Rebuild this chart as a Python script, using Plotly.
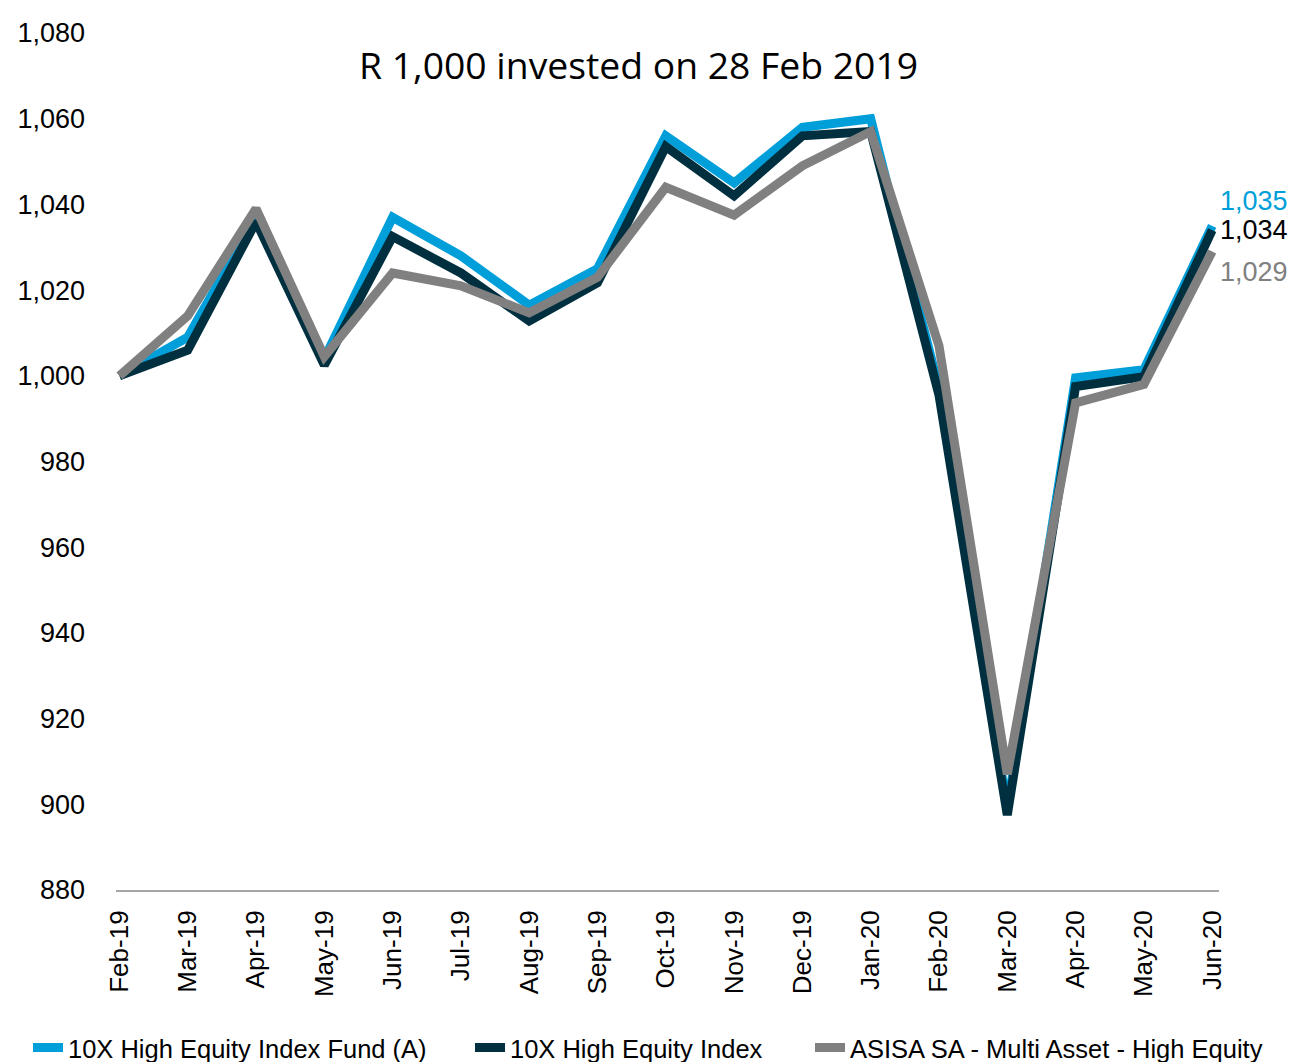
import plotly.graph_objects as go

months = ["Feb-19", "Mar-19", "Apr-19", "May-19", "Jun-19", "Jul-19", "Aug-19", "Sep-19",
          "Oct-19", "Nov-19", "Dec-19", "Jan-20", "Feb-20", "Mar-20", "Apr-20", "May-20", "Jun-20"]

fund_a = [1000, 1009, 1037, 1004, 1037, 1028, 1016.5, 1025, 1056, 1045, 1058, 1060,
          997, 899, 999.5, 1001.4, 1035]
index_10x = [1000, 1006, 1036, 1002.5, 1032.5, 1024, 1012.8, 1021.7, 1053.5, 1042, 1056, 1057,
             995.5, 897.5, 997.5, 999.8, 1034]
asisa = [1000, 1014, 1039, 1004.5, 1024, 1021, 1014.7, 1023, 1044, 1037.5, 1049, 1057,
         1007, 907, 993.7, 998, 1029]

names = ["10X High Equity Index Fund (A)", "10X High Equity Index", "ASISA SA - Multi Asset - High Equity"]
colors = ["#009fda", "#00303f", "#808080"]
label_colors = ["#009fda", "#000000", "#808080"]
series = [fund_a, index_10x, asisa]
end_labels = ["1,035", "1,034", "1,029"]
label_shift = [25, 0, -20]

title_text = "R 1,000 invested on 28 Feb 2019"
y_ticks = list(range(880, 1081, 20))

FONT = "Liberation Sans, Arial"
W, H = 1281, 1054

legend_ids = ["legend", "legend2", "legend3"]
legend_x = [20, 462, 802]

fig = go.Figure()
for name, col, vals, lid in zip(names, colors, series, legend_ids):
    fig.add_trace(go.Scatter(
        x=list(range(len(months))), y=vals, mode="lines", name=name, legend=lid,
        line=dict(color=col, width=9, shape="linear"),
    ))

for col, vals, lab, sh in zip(label_colors, series, end_labels, label_shift):
    fig.add_annotation(
        x=len(months) - 1, y=vals[-1], xref="x", yref="y", text=lab, showarrow=False,
        xanchor="left", yanchor="middle", xshift=6, yshift=sh,
        font=dict(family=FONT, size=27, color=col),
    )

fig.add_annotation(
    text=title_text, xref="paper", yref="paper", x=0.474, y=0.9638,
    xanchor="center", yanchor="middle", showarrow=False,
    font=dict(family="Open Sans", size=37.3, color="#000000"),
)

legend_common = dict(
    orientation="h", xref="container", yref="container", y=1 - 1040 / H,
    xanchor="left", yanchor="middle",
    font=dict(family=FONT, size=25.5, color="#000000"),
    itemwidth=30, bgcolor="rgba(0,0,0,0)", borderwidth=0,
)
legend_layout = {}
for lid, lx in zip(legend_ids, legend_x):
    legend_layout[lid] = dict(legend_common, x=lx / W)

fig.update_layout(
    width=W, height=H,
    margin=dict(l=108, r=70, t=25, b=172, autoexpand=False),
    paper_bgcolor="white", plot_bgcolor="white",
    showlegend=True,
    xaxis=dict(
        range=[-0.05, 16.1], tickmode="array", tickvals=list(range(len(months))),
        ticktext=months, tickangle=-90, showgrid=False, zeroline=False,
        showline=True, linecolor="#a6a6a6", linewidth=2, ticks="",
        ticklabelstandoff=8, automargin=False,
        tickfont=dict(family=FONT, size=26, color="#000000"),
    ),
    yaxis=dict(
        range=[880, 1080], tickmode="array", tickvals=y_ticks,
        ticktext=[f"{v:,}" for v in y_ticks], showgrid=False, zeroline=False,
        showline=False, ticks="", ticklabelstandoff=30, automargin=False,
        tickfont=dict(family=FONT, size=27, color="#000000"),
    ),
    **legend_layout,
)

fig.write_html("out.html")
